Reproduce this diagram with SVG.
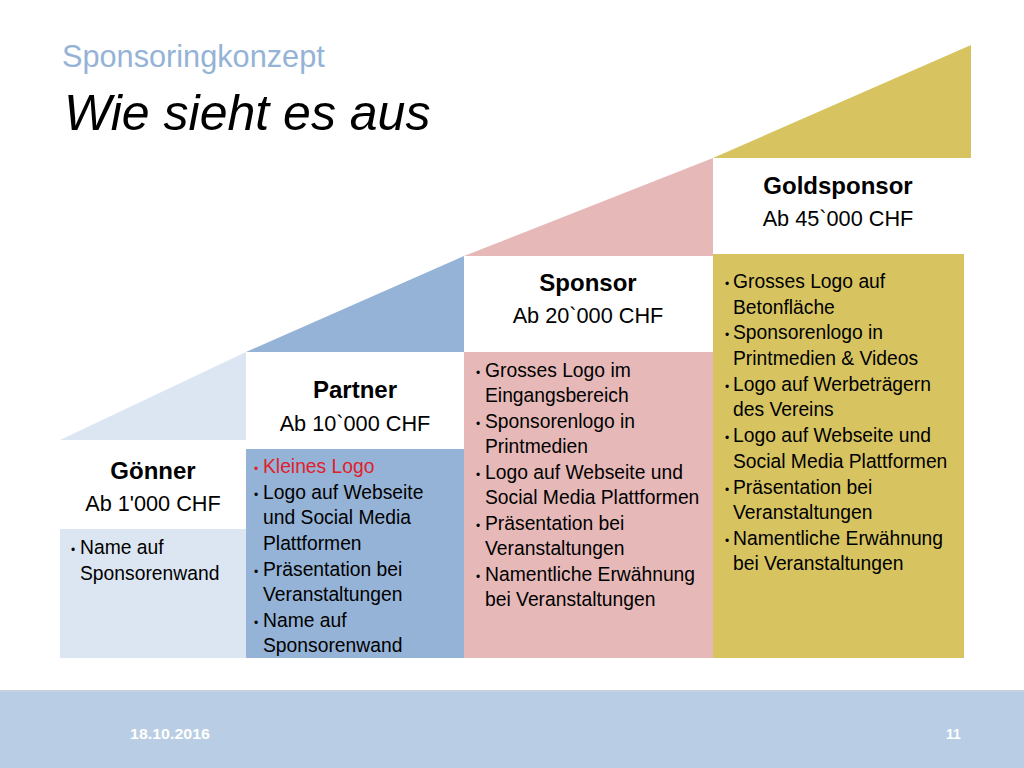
<svg xmlns="http://www.w3.org/2000/svg" width="1024" height="768" viewBox="0 0 1024 768">
<style>
text{font-family:"Liberation Sans",Arial,sans-serif;fill:#000}
.h{font-size:24px;font-weight:bold;text-anchor:middle}
.p{font-size:21.7px;text-anchor:middle}
.b{font-size:19.3px}
.dot{font-size:12px}
.red{fill:#E0202A}
.ft{font-size:14px;font-weight:bold;fill:#fff}
</style>
<rect width="1024" height="768" fill="#fff"/>
<text x="62" y="67" style="font-size:30.7px;fill:#95B3D7">Sponsoringkonzept</text>
<text x="64" y="130" style="font-size:50px;font-style:italic">Wie sieht es aus</text>

<g id="goenner">
<polygon points="60,440 246,352 246,440" fill="#DCE6F2"/>
<rect x="60" y="529" width="186" height="129" fill="#DCE6F2"/>
<text class="h" x="153" y="479">Gönner</text>
<text class="p" x="153" y="511">Ab 1'000 CHF</text>
<g class="b">
<text x="71" y="554" class="dot">•</text>
<text x="80" y="554">Name auf</text>
<text x="80" y="580">Sponsorenwand</text>
</g>
</g>

<g id="partner">
<polygon points="246,352 464,256 464,352" fill="#95B3D7"/>
<rect x="246" y="449" width="218" height="209" fill="#95B3D7"/>
<text class="h" x="355" y="398">Partner</text>
<text class="p" x="355" y="431">Ab 10`000 CHF</text>
<g class="b">
<text x="254" y="473" class="dot red">•</text>
<text x="263" y="473" class="red">Kleines Logo</text>
<text x="254" y="499" class="dot">•</text>
<text x="263" y="499">Logo auf Webseite</text>
<text x="263" y="524">und Social Media</text>
<text x="263" y="550">Plattformen</text>
<text x="254" y="576" class="dot">•</text>
<text x="263" y="576">Präsentation bei</text>
<text x="263" y="601">Veranstaltungen</text>
<text x="254" y="627" class="dot">•</text>
<text x="263" y="627">Name auf</text>
<text x="263" y="652">Sponsorenwand</text>
</g>
</g>

<g id="sponsor">
<polygon points="464,256 713,158 713,256" fill="#E6B9B8"/>
<rect x="464" y="352" width="249" height="306" fill="#E6B9B8"/>
<text class="h" x="588" y="291">Sponsor</text>
<text class="p" x="588" y="323">Ab 20`000 CHF</text>
<g class="b">
<text x="476" y="377" class="dot">•</text>
<text x="485" y="377">Grosses Logo im</text>
<text x="485" y="402">Eingangsbereich</text>
<text x="476" y="428" class="dot">•</text>
<text x="485" y="428">Sponsorenlogo in</text>
<text x="485" y="453">Printmedien</text>
<text x="476" y="479" class="dot">•</text>
<text x="485" y="479">Logo auf Webseite und</text>
<text x="485" y="504">Social Media Plattformen</text>
<text x="476" y="530" class="dot">•</text>
<text x="485" y="530">Präsentation bei</text>
<text x="485" y="555">Veranstaltungen</text>
<text x="476" y="581" class="dot">•</text>
<text x="485" y="581">Namentliche Erwähnung</text>
<text x="485" y="606">bei Veranstaltungen</text>
</g>
</g>

<g id="goldsponsor">
<polygon points="713,158 971,45 971,158" fill="#D7C461"/>
<rect x="713" y="254" width="251" height="404" fill="#D7C461"/>
<text class="h" x="838" y="194">Goldsponsor</text>
<text class="p" x="838" y="226">Ab 45`000 CHF</text>
<g class="b">
<text x="725" y="288" class="dot">•</text>
<text x="733" y="288">Grosses Logo auf</text>
<text x="733" y="314">Betonfläche</text>
<text x="725" y="339" class="dot">•</text>
<text x="733" y="339">Sponsorenlogo in</text>
<text x="733" y="365">Printmedien &amp; Videos</text>
<text x="725" y="391" class="dot">•</text>
<text x="733" y="391">Logo auf Werbeträgern</text>
<text x="733" y="416">des Vereins</text>
<text x="725" y="442" class="dot">•</text>
<text x="733" y="442">Logo auf Webseite und</text>
<text x="733" y="468">Social Media Plattformen</text>
<text x="725" y="494" class="dot">•</text>
<text x="733" y="494">Präsentation bei</text>
<text x="733" y="519">Veranstaltungen</text>
<text x="725" y="545" class="dot">•</text>
<text x="733" y="545">Namentliche Erwähnung</text>
<text x="733" y="570">bei Veranstaltungen</text>
</g>
</g>

<g id="footer">
<rect x="0" y="690" width="1024" height="78" fill="#B9CDE5"/>
<rect x="0" y="690" width="1024" height="2" fill="#C5D1DE"/>
<text class="ft" x="130" y="739" textLength="80" lengthAdjust="spacingAndGlyphs">18.10.2016</text>
<text class="ft" x="946" y="739">11</text>
</g>
</svg>
